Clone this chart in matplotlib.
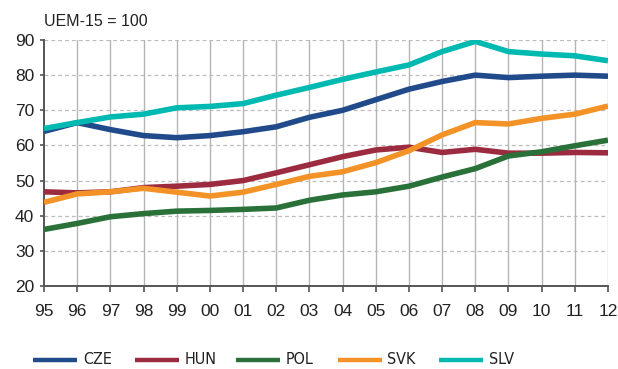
import numpy as np
import matplotlib.pyplot as plt
from matplotlib.lines import Line2D

plt.rcParams['font.family'] = ['Liberation Sans', 'DejaVu Sans']

years = np.arange(1995, 2013)
year_labels = ['95', '96', '97', '98', '99', '00', '01', '02', '03',
               '04', '05', '06', '07', '08', '09', '10', '11', '12']

cze = [64.0, 66.5, 64.5, 62.8, 62.2, 62.8, 63.9, 65.3, 68.0, 70.0,
       73.0, 76.0, 78.2, 80.0, 79.3, 79.7, 80.0, 79.7]
hun = [46.8, 46.5, 46.8, 48.0, 48.4, 48.9, 50.0, 52.2, 54.5, 56.8,
       58.7, 59.5, 58.0, 58.9, 57.8, 57.8, 58.0, 57.9]
pol = [36.1, 37.8, 39.7, 40.6, 41.3, 41.5, 41.8, 42.2, 44.4, 45.9,
       46.8, 48.4, 51.0, 53.4, 57.0, 58.2, 59.9, 61.5]
svk = [43.8, 46.2, 46.8, 47.8, 46.7, 45.6, 46.7, 48.9, 51.2, 52.5,
       55.1, 58.5, 63.0, 66.5, 66.1, 67.7, 68.9, 71.2]
slv = [64.8, 66.5, 68.1, 68.9, 70.7, 71.1, 71.9, 74.3, 76.5, 78.8,
       80.9, 82.9, 86.7, 89.6, 86.7, 86.0, 85.5, 84.1]

series = [('CZE', cze, '#214a8b'), ('HUN', hun, '#9c2b3f'),
          ('POL', pol, '#2a7139'), ('SVK', svk, '#f39226'),
          ('SLV', slv, '#00b9b1')]

W, H = 618, 369
fig = plt.figure(figsize=(W / 100, H / 100), dpi=100)
ax = fig.add_axes([44 / W, 1 - 286 / H, (608 - 44) / W, (286 - 40) / H])

for name, vals, col in series:
    ax.plot(years, vals, color=col, linewidth=4, label=name,
            solid_capstyle='butt', zorder=3)

ax.set_xlim(1995, 2012)
ax.set_ylim(20, 90)
ax.set_xticks(years)
ax.set_xticklabels(year_labels)
ax.set_yticks(np.arange(20, 91, 10))

for x in years[1:]:
    ax.axvline(x, color='#b5b5b5', linewidth=1, zorder=1)
for y in range(30, 91, 10):
    ax.axhline(y, color='#bbbbbb', linewidth=0.9, linestyle=(0, (3, 2.5)), zorder=1)

for s in ['top', 'right']:
    ax.spines[s].set_visible(False)
for s in ['left', 'bottom']:
    ax.spines[s].set_color('#555555')
    ax.spines[s].set_linewidth(1.4)

ax.tick_params(axis='x', direction='out', length=4, width=1.2, color='#555555',
               labelsize=12.5, labelcolor='#222222', pad=9)
ax.tick_params(axis='y', direction='out', length=3, width=1.2, color='#555555',
               labelsize=12.5, labelcolor='#222222', pad=4)

fig.text(44 / W, 1 - 26 / H, 'UEM-15 = 100', fontsize=11.5, color='#222222',
         ha='left', va='baseline')

# legend drawn by hand, one entry every ~101 px
leg_y = 1 - 360 / H
for i, (name, vals, col) in enumerate(series):
    x0 = (33 + 101.5 * i) / W
    fig.add_artist(Line2D([x0, x0 + 44 / W], [leg_y, leg_y], color=col,
                          linewidth=3.2, solid_capstyle='butt',
                          transform=fig.transFigure))
    fig.text(x0 + 50 / W, leg_y, name, fontsize=11.5, color='#222222',
             family='DejaVu Sans', fontstretch='condensed',
             ha='left', va='center')

fig.savefig('out.png', dpi=100)
